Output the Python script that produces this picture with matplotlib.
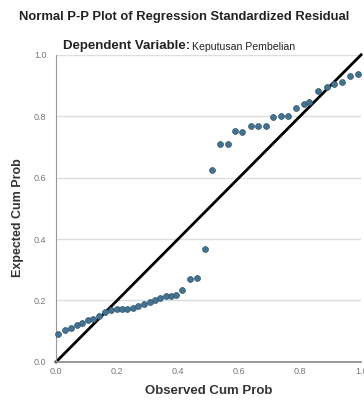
import numpy as np
import matplotlib
matplotlib.use('Agg')
import matplotlib.pyplot as plt

# observed vs expected cumulative probabilities
observed = [0.008, 0.030, 0.048, 0.068, 0.086, 0.106, 0.122, 0.142, 0.161, 0.180,
            0.199, 0.215, 0.234, 0.253, 0.270, 0.289, 0.308, 0.325, 0.341, 0.361,
            0.376, 0.393, 0.412, 0.439, 0.461, 0.489, 0.512, 0.538, 0.565, 0.587,
            0.611, 0.638, 0.663, 0.689, 0.712, 0.737, 0.762, 0.787, 0.813, 0.830,
            0.860, 0.888, 0.911, 0.939, 0.964, 0.991]
expected = [0.091, 0.105, 0.112, 0.121, 0.128, 0.135, 0.141, 0.150, 0.161, 0.170,
            0.172, 0.172, 0.173, 0.177, 0.183, 0.188, 0.196, 0.203, 0.208, 0.213,
            0.216, 0.219, 0.235, 0.271, 0.273, 0.368, 0.625, 0.711, 0.711, 0.753,
            0.749, 0.767, 0.767, 0.767, 0.796, 0.802, 0.802, 0.828, 0.840, 0.845,
            0.883, 0.894, 0.905, 0.910, 0.932, 0.938]
ticks = [0.0, 0.2, 0.4, 0.6, 0.8, 1.0]
tick_labels = ['0.0', '0.2', '0.4', '0.6', '0.8', '1.0']

plt.rcParams['font.family'] = ['Liberation Sans', 'DejaVu Sans']

fig = plt.figure(figsize=(3.64, 4.03), dpi=100)
ax = fig.add_axes([0.154, 0.102, 0.838, 0.762])

ax.set_xlim(0, 1)
ax.set_ylim(0, 1)
ax.set_yticks(ticks)
ax.set_yticklabels(tick_labels)
ax.set_xticks(ticks)
ax.set_xticklabels(tick_labels)
ax.tick_params(length=0, labelsize=6.5, colors='#777777')
ax.tick_params(axis='y', pad=7)
ax.tick_params(axis='x', pad=4)
ax.grid(axis='y', color='#dddddd', linewidth=1)
ax.set_axisbelow(True)
for s in ['top', 'right']:
    ax.spines[s].set_visible(False)
ax.spines['left'].set_color('#999999')
ax.spines['bottom'].set_color('#888888')
ax.spines['bottom'].set_linewidth(1.2)

ax.plot([0, 1], [0, 1], color='black', linewidth=2, clip_on=False, zorder=2)
ax.scatter(observed, expected, s=18, color='#45738f', edgecolors='#2f5570',
           linewidths=0.5, zorder=3, clip_on=False)

ax.set_xlabel('Observed Cum Prob', fontsize=9.5, fontweight='bold', labelpad=6,
              color='#333333')
ax.set_ylabel('Expected Cum Prob', fontsize=9, fontweight='bold',
              color='#333333')
ax.yaxis.set_label_coords(-0.105, 0.47)

fig.text(0.505, 0.958, 'Normal P-P Plot of Regression Standardized Residual',
         ha='center', va='center', fontsize=9.4, fontweight='bold', color='#222222')
fig.text(0.522, 0.885, 'Dependent Variable:', ha='right', va='center',
         fontsize=9.5, fontweight='bold', color='#222222')
fig.text(0.528, 0.884, 'Keputusan Pembelian', ha='left', va='center',
         fontsize=7.6, color='#222222')

fig.savefig('out.png', dpi=100)
